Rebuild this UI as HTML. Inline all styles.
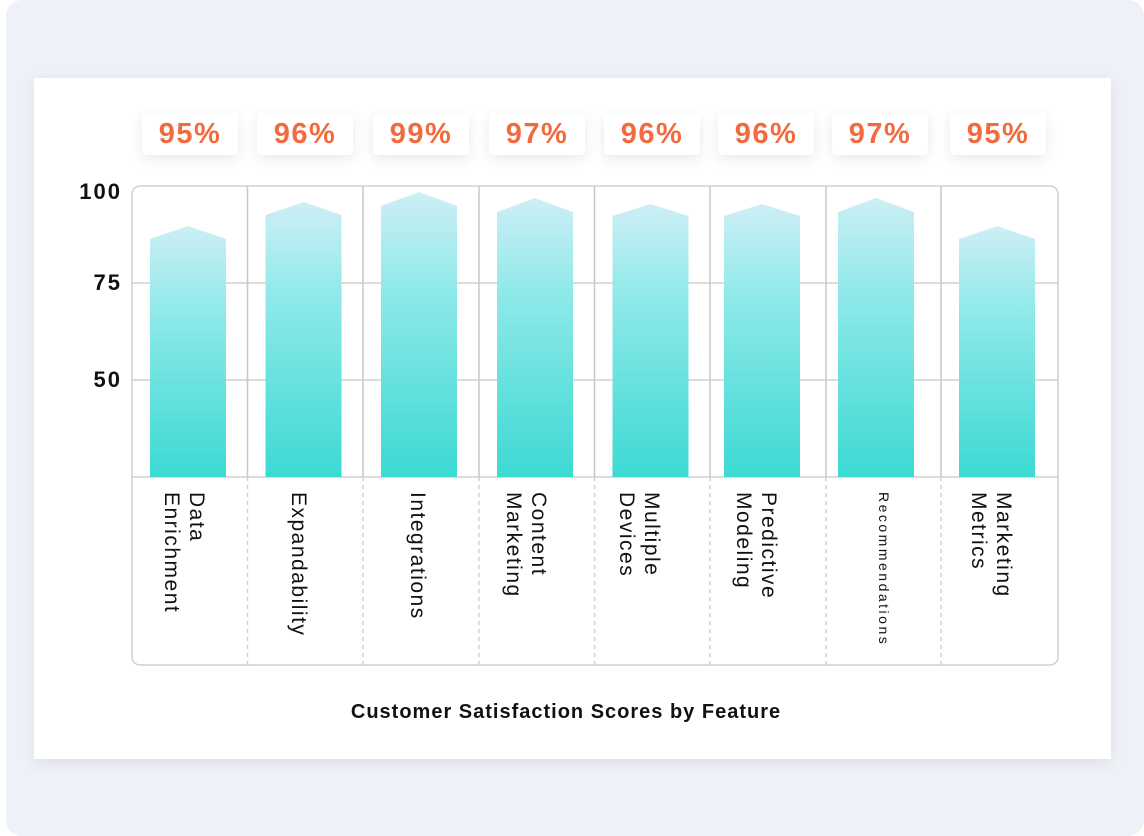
<!DOCTYPE html>
<html><head><style>
body{margin:0;width:1144px;height:836px;background:#fff;font-family:"Liberation Sans",sans-serif;}
.bg{position:absolute;left:6px;top:0;width:1138px;height:836px;background:#eef2f8;border-radius:16px;}
.card{position:absolute;left:34px;top:78px;width:1077px;height:681px;background:#fff;box-shadow:0 4px 14px rgba(0,0,0,.08);}
.pill{position:absolute;top:113px;height:42px;width:96px;background:#fff;border-radius:4px;box-shadow:0 4px 14px rgba(0,0,0,.09);color:#f26a3d;font-weight:bold;font-size:29px;letter-spacing:1.5px;line-height:42px;text-align:center;}
.lab{position:absolute;top:492px;writing-mode:vertical-rl;font-size:21px;letter-spacing:1.5px;line-height:25px;color:#111;}
.yl{position:absolute;left:58px;width:64px;text-align:right;font-weight:bold;font-size:22px;letter-spacing:2px;color:#111;}
</style></head><body>
<div class="bg"></div>
<div class="card"></div>
<svg style="position:absolute;left:0;top:0" width="1144" height="836">
<defs><linearGradient id="g" x1="0" y1="0" x2="0" y2="1"><stop offset="0" stop-color="#cdeff5"/><stop offset="0.35" stop-color="#8ee9e9"/><stop offset="1" stop-color="#3dd9d3"/></linearGradient></defs>
<g stroke="#d0d0d0" stroke-width="1.5" fill="none">
<line x1="132" y1="283" x2="1058" y2="283"/><line x1="132" y1="380" x2="1058" y2="380"/><line x1="132" y1="477" x2="1058" y2="477"/>
<g stroke="#c8c8c8"><line x1="247.5" y1="186" x2="247.5" y2="477"/><line x1="363" y1="186" x2="363" y2="477"/><line x1="479" y1="186" x2="479" y2="477"/><line x1="594.5" y1="186" x2="594.5" y2="477"/><line x1="710" y1="186" x2="710" y2="477"/><line x1="826" y1="186" x2="826" y2="477"/><line x1="941" y1="186" x2="941" y2="477"/></g>
<g stroke-dasharray="4 4"><line x1="247.5" y1="477" x2="247.5" y2="665"/><line x1="363" y1="477" x2="363" y2="665"/><line x1="479" y1="477" x2="479" y2="665"/><line x1="594.5" y1="477" x2="594.5" y2="665"/><line x1="710" y1="477" x2="710" y2="665"/><line x1="826" y1="477" x2="826" y2="665"/><line x1="941" y1="477" x2="941" y2="665"/></g>
<rect x="132" y="186" width="926" height="479" rx="8"/>
</g>
<g fill="url(#g)">
<polygon points="150,477 150,239 188,226 226,239 226,477"/>
<polygon points="265.5,477 265.5,215 303.5,202 341.5,215 341.5,477"/>
<polygon points="381,477 381,206 419,192 457,206 457,477"/>
<polygon points="497,477 497,212 535,198 573,212 573,477"/>
<polygon points="612.5,477 612.5,216 650.5,204 688.5,216 688.5,477"/>
<polygon points="724,477 724,216 762,204 800,216 800,477"/>
<polygon points="838,477 838,212 876,198 914,212 914,477"/>
<polygon points="959,477 959,239 997,226 1035,239 1035,477"/>
</g>
</svg>
<div class="yl" style="top:179px">100</div>
<div class="yl" style="top:270px">75</div>
<div class="yl" style="top:367px">50</div>
<div class="pill" style="left:142px">95%</div>
<div class="pill" style="left:257px">96%</div>
<div class="pill" style="left:373px">99%</div>
<div class="pill" style="left:489px">97%</div>
<div class="pill" style="left:604px">96%</div>
<div class="pill" style="left:718px">96%</div>
<div class="pill" style="left:832px">97%</div>
<div class="pill" style="left:950px">95%</div>
<div class="lab" style="left:159px">Data<br>Enrichment</div>
<div class="lab" style="left:286px">Expandability</div>
<div class="lab" style="left:405px">Integrations</div>
<div class="lab" style="left:501px">Content<br>Marketing</div>
<div class="lab" style="left:614px">Multiple<br>Devices</div>
<div class="lab" style="left:731px">Predictive<br>Modeling</div>
<div class="lab" style="left:871px;font-size:14px;letter-spacing:2.5px">Recommendations</div>
<div class="lab" style="left:966px">Marketing<br>Metrics</div>
<div style="position:absolute;left:0;width:1132px;top:701px;text-align:center;font-weight:bold;font-size:20px;letter-spacing:1px;color:#111">Customer Satisfaction Scores by Feature</div>
</body></html>
